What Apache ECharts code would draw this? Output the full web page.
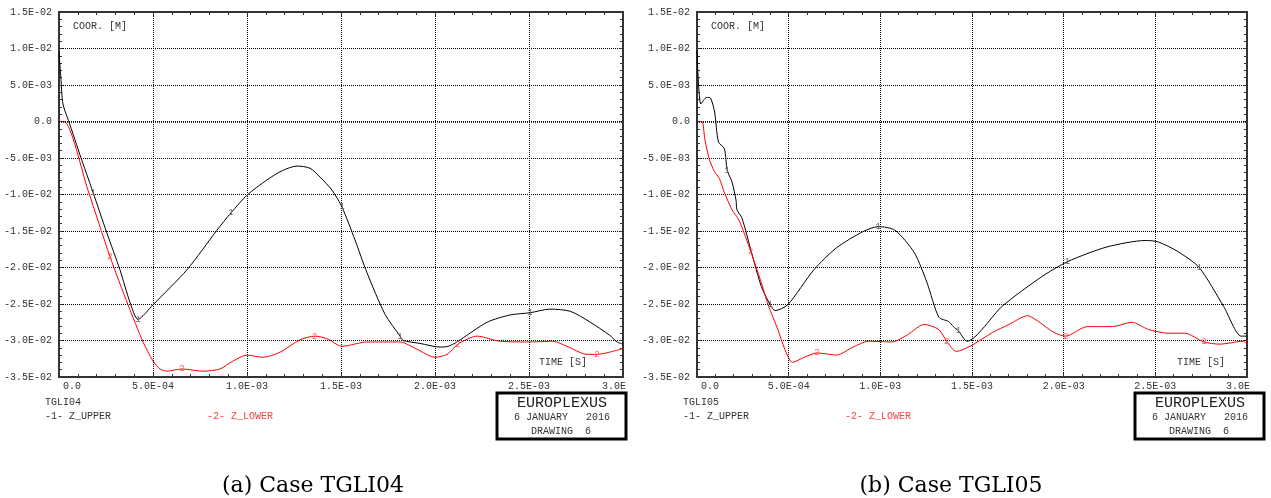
<!DOCTYPE html>
<html>
<head>
<meta charset="utf-8">
<script src="https://cdn.jsdelivr.net/npm/echarts@6/dist/echarts.min.js"></script>
<style>
html, body { margin: 0; padding: 0; background: #fff; }
#chart { width: 1271px; height: 498px; }
</style>
</head>
<body>
<div id="chart"></div>
<script>
// ---- Case TGLI04: time [s] and Z coordinate [m] ----
const timeUpper04 = [0, 1.1e-5, 2.1e-5, 5.9e-5, 1.12e-4, 1.81e-4, 2.55e-4, 3.24e-4, 3.78e-4, 4.20e-4, 5.00e-4, 6.81e-4, 8.40e-4, 9.15e-4, 1.000e-3, 1.106e-3, 1.190e-3, 1.266e-3, 1.335e-3, 1.388e-3, 1.452e-3, 1.505e-3, 1.574e-3, 1.638e-3, 1.734e-3, 1.814e-3, 1.830e-3, 1.920e-3, 2.027e-3, 2.070e-3, 2.117e-3, 2.277e-3, 2.400e-3, 2.505e-3, 2.612e-3, 2.720e-3, 2.820e-3, 2.930e-3, 2.968e-3, 3.000e-3];
const zUpper04 = [9.5e-3, 5.6e-3, 2.4e-3, -0.5e-3, -4.6e-3, -9.7e-3, -15.3e-3, -20.3e-3, -24.8e-3, -27.1e-3, -25.1e-3, -20.3e-3, -14.9e-3, -12.5e-3, -10.1e-3, -8.0e-3, -6.7e-3, -6.1e-3, -6.4e-3, -7.6e-3, -9.4e-3, -11.7e-3, -16.2e-3, -20.7e-3, -26.4e-3, -29.4e-3, -30.0e-3, -30.4e-3, -30.9e-3, -30.8e-3, -30.2e-3, -27.5e-3, -26.5e-3, -26.2e-3, -25.7e-3, -26.0e-3, -27.4e-3, -29.3e-3, -30.2e-3, -30.5e-3];
const timeLower04 = [0, 2.7e-5, 1.54e-4, 2.71e-4, 3.67e-4, 4.47e-4, 5.00e-4, 5.37e-4, 5.74e-4, 6.54e-4, 7.66e-4, 8.56e-4, 9.26e-4, 1.000e-3, 1.085e-3, 1.176e-3, 1.282e-3, 1.360e-3, 1.430e-3, 1.505e-3, 1.638e-3, 1.814e-3, 1.904e-3, 2.000e-3, 2.064e-3, 2.122e-3, 2.223e-3, 2.346e-3, 2.505e-3, 2.628e-3, 2.702e-3, 2.809e-3, 2.862e-3, 3.000e-3];
const zLower04 = [0, 0, -9.4e-3, -18.5e-3, -25.1e-3, -30.2e-3, -32.8e-3, -33.9e-3, -34.2e-3, -33.9e-3, -34.2e-3, -33.9e-3, -32.8e-3, -32.0e-3, -32.3e-3, -31.6e-3, -29.9e-3, -29.4e-3, -29.8e-3, -30.8e-3, -30.2e-3, -30.2e-3, -31.2e-3, -32.3e-3, -31.9e-3, -30.5e-3, -29.4e-3, -30.1e-3, -30.2e-3, -30.1e-3, -30.8e-3, -31.9e-3, -31.9e-3, -31.1e-3];
// curve number tags along each line
const tagsUpper04 = [1.76e-4, 4.20e-4, 9.15e-4, 1.505e-3, 1.814e-3, 2.505e-3];
const tagsLower04 = [2.71e-4, 6.54e-4, 1.360e-3, 2.122e-3, 2.862e-3];

// ---- Case TGLI05 ----
const timeUpper05 = [0, 2.1e-5, 5.3e-5, 7.4e-5, 9.6e-5, 1.17e-4, 1.49e-4, 1.65e-4, 1.91e-4, 2.13e-4, 2.18e-4, 2.45e-4, 2.98e-4, 3.51e-4, 3.99e-4, 4.26e-4, 4.95e-4, 6.38e-4, 7.61e-4, 9.04e-4, 9.89e-4, 1.080e-3, 1.186e-3, 1.255e-3, 1.319e-3, 1.372e-3, 1.399e-3, 1.426e-3, 1.473e-3, 1.665e-3, 1.878e-3, 2.021e-3, 2.234e-3, 2.447e-3, 2.516e-3, 2.622e-3, 2.739e-3, 2.872e-3, 2.968e-3, 3.000e-3];
const zUpper05 = [9.7e-3, 2.4e-3, 3.3e-3, 3.2e-3, 1.3e-3, -2.8e-3, -3.7e-3, -6.7e-3, -8.3e-3, -10.8e-3, -12.1e-3, -13.2e-3, -18.0e-3, -22.6e-3, -25.1e-3, -25.9e-3, -25.1e-3, -20.3e-3, -17.3e-3, -15.1e-3, -14.4e-3, -14.9e-3, -18.0e-3, -22.1e-3, -26.8e-3, -27.4e-3, -28.1e-3, -28.7e-3, -30.1e-3, -25.3e-3, -21.3e-3, -19.2e-3, -17.2e-3, -16.3e-3, -16.5e-3, -17.8e-3, -20.0e-3, -25.3e-3, -29.4e-3, -29.4e-3];
const timeLower05 = [0, 2.7e-5, 4.3e-5, 6.9e-5, 9.6e-5, 1.22e-4, 1.49e-4, 1.91e-4, 2.29e-4, 2.93e-4, 3.46e-4, 3.88e-4, 4.41e-4, 4.79e-4, 5.21e-4, 5.85e-4, 6.54e-4, 7.61e-4, 8.51e-4, 9.36e-4, 1.064e-3, 1.149e-3, 1.239e-3, 1.319e-3, 1.362e-3, 1.415e-3, 1.489e-3, 1.612e-3, 1.702e-3, 1.803e-3, 1.862e-3, 1.947e-3, 2.011e-3, 2.128e-3, 2.266e-3, 2.372e-3, 2.463e-3, 2.569e-3, 2.660e-3, 2.766e-3, 2.851e-3, 2.979e-3, 3.000e-3];
const zLower05 = [0, 0, -2.5e-3, -5.3e-3, -6.9e-3, -7.8e-3, -9.7e-3, -12.1e-3, -13.5e-3, -17.8e-3, -21.7e-3, -25.1e-3, -28.5e-3, -31.2e-3, -33.0e-3, -32.3e-3, -31.7e-3, -32.0e-3, -30.9e-3, -30.1e-3, -30.2e-3, -29.2e-3, -27.8e-3, -28.5e-3, -30.1e-3, -31.5e-3, -30.8e-3, -28.9e-3, -27.8e-3, -26.6e-3, -27.4e-3, -28.9e-3, -29.4e-3, -28.1e-3, -28.1e-3, -27.5e-3, -28.5e-3, -29.0e-3, -29.0e-3, -30.2e-3, -30.5e-3, -30.1e-3, -30.5e-3];
const tagsUpper05 = [1.65e-4, 3.99e-4, 9.89e-4, 1.426e-3, 2.021e-3, 2.739e-3];
const tagsLower05 = [2.93e-4, 6.54e-4, 1.362e-3, 2.011e-3, 2.766e-3];

// axis ranges
const timeMin = 0, timeMax = 3.0e-3, timeStep = 5.0e-4;
const zMin = -3.5e-2, zMax = 1.5e-2, zStep = 5.0e-3;

// text
const caseNames = ['TGLI04', 'TGLI05'];
const captions = ['(a) Case TGLI04', '(b) Case TGLI05'];
const curveNames = ['-1- Z_UPPER', '-2- Z_LOWER'];
const yTitle = 'COOR. [M]';
const xTitle = 'TIME [S]';
const stampLines = ['EUROPLEXUS', '6 JANUARY   2016', 'DRAWING  6'];

const MONO = '"Liberation Mono", "DejaVu Sans Mono", monospace';
const SERIF = '"DejaVu Serif", "Liberation Serif", serif';
const INK = '#333';
const BLACK_CURVE = '#000000';
const RED_CURVE = '#ff0000';

// Fortran-style E notation: 1.5E-02, 0.0
function sci(v) {
  if (Math.abs(v) < 1e-12) return '0.0';
  let e = Math.floor(Math.log10(Math.abs(v)) + 1e-9);
  let ms = (v / Math.pow(10, e)).toFixed(1);
  if (Math.abs(parseFloat(ms)) >= 10) { e += 1; ms = (v / Math.pow(10, e)).toFixed(1); }
  return ms + 'E' + (e < 0 ? '-' : '+') + String(Math.abs(e)).padStart(2, '0');
}

function buildData(ts, zs, tags, tagText, tagColor) {
  const data = ts.map((t, i) => ({ value: [t, zs[i]] }));
  tags.forEach(tt => {
    let best = 0;
    ts.forEach((t, i) => { if (Math.abs(t - tt) < Math.abs(ts[best] - tt)) best = i; });
    data[best].label = {
      show: true, formatter: tagText, position: 'inside',
      color: tagColor, fontSize: 9, fontFamily: MONO
    };
  });
  return data;
}

const frame = { show: true, onZero: false, lineStyle: { color: INK, width: 2 } };
const tick = { show: true, inside: true, length: 4, lineStyle: { color: INK, width: 1 } };
const minor = { show: true, splitNumber: 5, length: 3, lineStyle: { color: INK, width: 1 } };
const dotted = { show: true, lineStyle: { type: [1, 1], color: '#000', width: 1 } };

const grids = [], xAxes = [], yAxes = [], series = [], graphic = [];
const panelLeft = [59, 697];

[0, 1].forEach(g => {
  const L = panelLeft[g];
  const dx = L - panelLeft[0];
  grids.push({ left: L, top: 12, width: 564, height: 365, containLabel: false });

  xAxes.push({
    gridIndex: g, type: 'value', position: 'bottom',
    min: timeMin, max: timeMax, interval: timeStep,
    axisLine: frame, axisTick: tick, minorTick: minor, splitLine: dotted,
    axisLabel: {
      fontFamily: MONO, fontSize: 10, color: INK, margin: 4,
      alignMinLabel: 'left',
      formatter: v => {
        if (Math.abs(v - timeMin) < 1e-12) return '{z|' + sci(v) + '}';
        if (Math.abs(v - timeMax) < 1e-12) return sci(v).slice(0, 4) + '\u00a0\u00a0\u00a0';
        return sci(v);
      },
      rich: { z: { padding: [0, 0, 0, 4], fontFamily: MONO, fontSize: 10, color: INK } }
    }
  });
  xAxes.push({
    gridIndex: g, type: 'value', position: 'top',
    min: timeMin, max: timeMax, interval: timeStep,
    axisLine: frame, axisTick: tick, minorTick: minor,
    splitLine: { show: false }, axisLabel: { show: false }
  });
  yAxes.push({
    gridIndex: g, type: 'value', position: 'left',
    min: zMin, max: zMax, interval: zStep,
    axisLine: frame, axisTick: tick, minorTick: minor, splitLine: dotted,
    axisLabel: { fontFamily: MONO, fontSize: 10, color: INK, margin: 7, formatter: v => sci(v) }
  });
  yAxes.push({
    gridIndex: g, type: 'value', position: 'right',
    min: zMin, max: zMax, interval: zStep,
    axisLine: frame, axisTick: tick, minorTick: minor,
    splitLine: { show: false }, axisLabel: { show: false }
  });

  const up = g === 0 ? [timeUpper04, zUpper04, tagsUpper04] : [timeUpper05, zUpper05, tagsUpper05];
  const lo = g === 0 ? [timeLower04, zLower04, tagsLower04] : [timeLower05, zLower05, tagsLower05];

  const common = {
    type: 'line', xAxisIndex: 2 * g, yAxisIndex: 2 * g,
    smooth: 0.25,
    symbol: 'circle', symbolSize: 0.1, showSymbol: true,
    label: { show: false }, emphasis: { disabled: true }, silent: true
  };
  series.push(Object.assign({}, common, {
    name: curveNames[0],
    data: buildData(up[0], up[1], up[2], '1', '#666'),
    lineStyle: { color: BLACK_CURVE, width: 1 }, itemStyle: { color: BLACK_CURVE },
    markLine: {
      silent: true, symbol: ['none', 'none'], label: { show: false },
      lineStyle: { type: [1, 1], color: '#000', width: 1.6 },
      data: [{ yAxis: 0 }]
    }
  }));
  series.push(Object.assign({}, common, {
    name: curveNames[1],
    data: buildData(lo[0], lo[1], lo[2], '2', '#ff5a5a'),
    lineStyle: { color: RED_CURVE, width: 1 }, itemStyle: { color: RED_CURVE }
  }));

  const txt = (x, y, text, font, fill, align) => ({
    type: 'text', x: x, y: y, z: 100, silent: true,
    style: {
      text: text, font: font, fill: fill,
      align: align || 'left', verticalAlign: 'middle',
      textAlign: align || 'left', textVerticalAlign: 'middle'
    }
  });
  const f10 = '10px ' + MONO;

  graphic.push(txt(73 + dx, 26, yTitle, f10, INK));
  graphic.push(txt(539 + dx, 362, xTitle, f10, INK));
  graphic.push(txt(45 + dx, 402, caseNames[g], f10, INK));
  graphic.push(txt(45 + dx, 416, curveNames[0], f10, INK));
  graphic.push(txt(207 + dx, 416, curveNames[1], f10, '#ff4040'));
  graphic.push({
    type: 'rect', z: 100, silent: true,
    shape: { x: 497 + dx, y: 393, width: 129, height: 46 },
    style: { fill: '#fff', stroke: '#000', lineWidth: 3 }
  });
  graphic.push(txt(562 + dx, 403, stampLines[0], '15px ' + MONO, '#222', 'center'));
  graphic.push(txt(514 + dx, 417, stampLines[1], f10, INK));
  graphic.push(txt(531 + dx, 431, stampLines[2], f10, INK));
  graphic.push(txt(313 + dx, 486, captions[g], '22px ' + SERIF, '#000', 'center'));
});

const chart = echarts.init(document.getElementById('chart'), null, { renderer: 'canvas' });
chart.setOption({
  animation: false,
  backgroundColor: '#fff',
  grid: grids,
  xAxis: xAxes,
  yAxis: yAxes,
  series: series,
  graphic: graphic
});
</script>
</body>
</html>
